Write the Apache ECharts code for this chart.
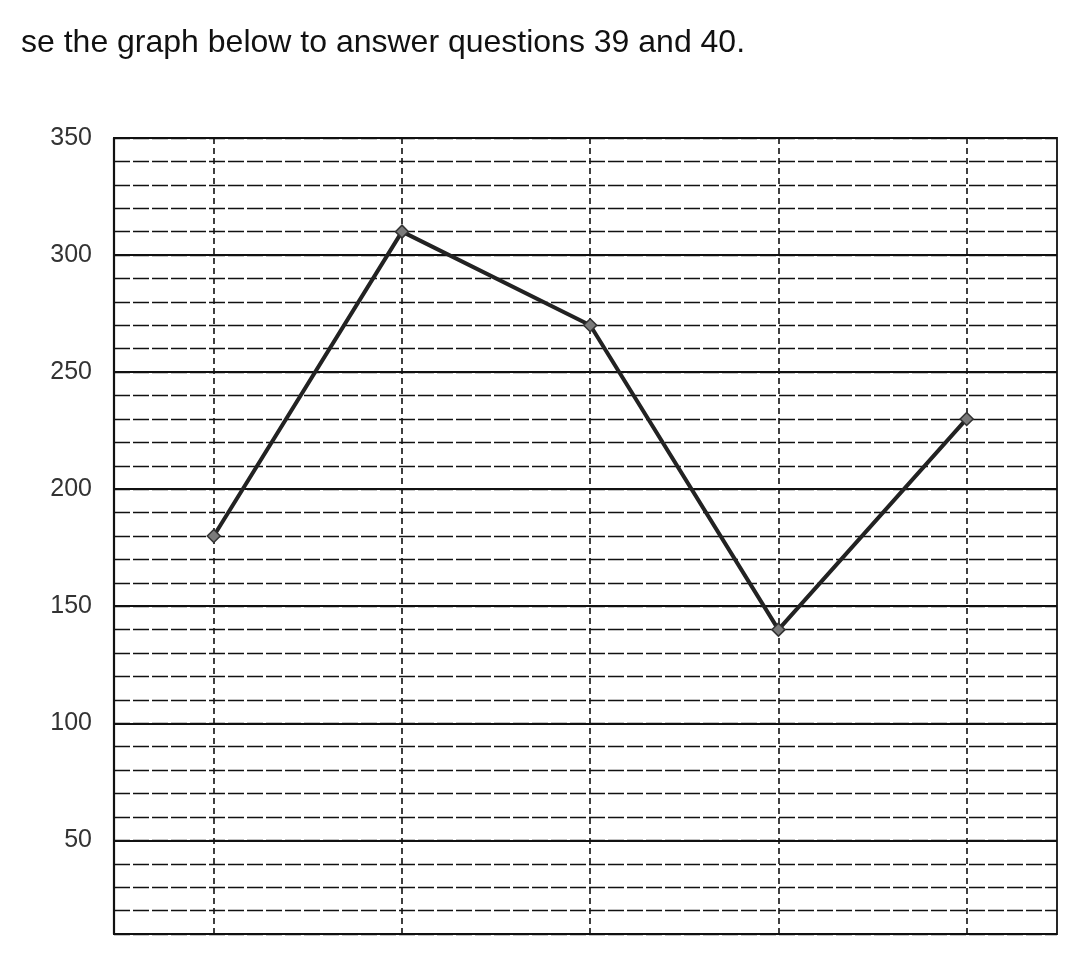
<!DOCTYPE html>
<html>
<head>
<meta charset="utf-8">
<style>
  html, body { margin: 0; padding: 0; background: #fff; }
  #chart { width: 1085px; height: 959px; }
</style>
<script src="https://cdn.jsdelivr.net/npm/echarts@6/dist/echarts.min.js"></script>
</head>
<body>
<div id="chart"></div>
<script>
// Data
const xPositions = [1, 2, 3, 4, 5];
const values = [180, 310, 270, 140, 230];
const majorLines = [50, 100, 150, 200, 250, 300];
const titleText = 'se the graph below to answer questions 39 and 40.';

const chart = echarts.init(document.getElementById('chart'));
const seriesData = xPositions.map((x, i) => [x, values[i]]);

chart.setOption({
  animation: false,
  backgroundColor: '#fff',
  title: {
    text: titleText,
    left: 16,
    top: 22,
    textStyle: { fontFamily: 'Liberation Sans, Arial, sans-serif', fontSize: 32, fontWeight: 'normal', color: '#111' }
  },
  grid: {
    left: 114, right: 28, top: 138, bottom: 25,
    show: true, borderColor: '#111', borderWidth: 1.8, backgroundColor: 'transparent'
  },
  xAxis: {
    type: 'value', min: 0.47, max: 5.48,
    axisLine: { show: false }, axisTick: { show: false }, axisLabel: { show: false },
    splitLine: { show: false }
  },
  yAxis: {
    type: 'value', min: 10, max: 350, interval: 10,
    axisLine: { show: true, lineStyle: { color: '#111', width: 2.2 } },
    axisTick: { show: false },
    axisLabel: {
      margin: 22,
      fontFamily: 'Liberation Sans, Arial, sans-serif', fontSize: 25, color: '#333',
      formatter: v => (v % 50 === 0 ? String(v) : '')
    },
    splitLine: { show: true, lineStyle: { color: '#111', width: 1.4, type: [16, 3] } }
  },
  series: [{
    type: 'line',
    data: seriesData,
    symbol: 'diamond',
    symbolSize: 13,
    lineStyle: { color: '#222', width: 4 },
    itemStyle: { color: '#7a7a7a', borderColor: '#333', borderWidth: 1.5 },
    z: 5,
    markLine: {
      silent: true, symbol: 'none', label: { show: false },
      animation: false,
      data: [
        ...majorLines.map(v => ({ yAxis: v, lineStyle: { color: '#111', width: 1.8, type: 'solid' } })),
        ...xPositions.map(x => ({ xAxis: x, lineStyle: { color: '#111', width: 1.6, type: [6, 4] } }))
      ]
    }
  }]
});
</script>
</body>
</html>
